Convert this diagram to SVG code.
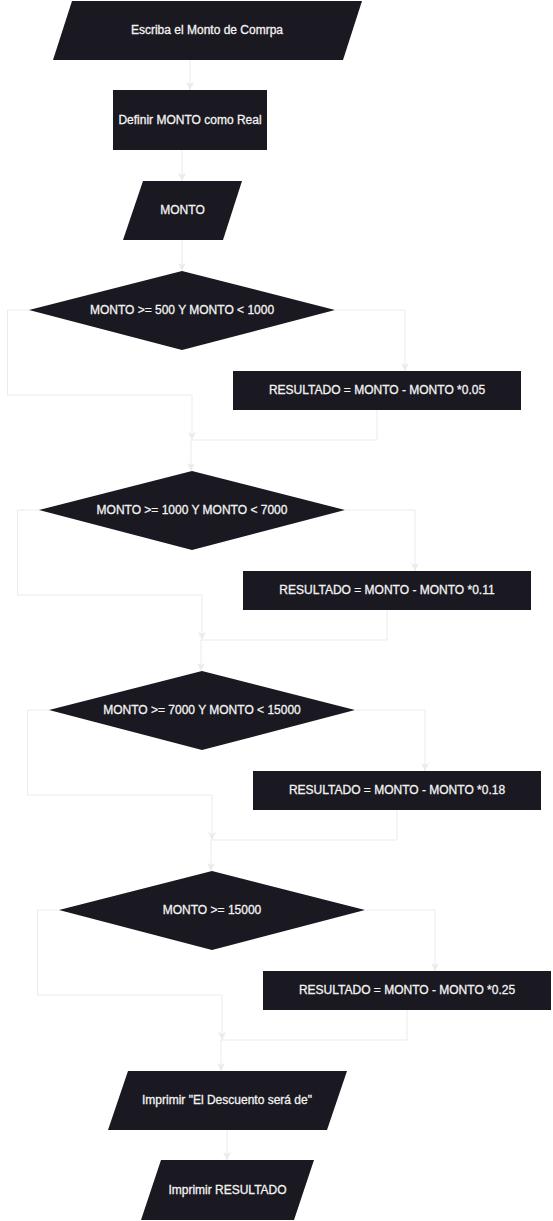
<svg xmlns="http://www.w3.org/2000/svg" width="553" height="1221" viewBox="0 0 553 1221">
<style>
.n{fill:#1a1820;}
.t{font-family:"Liberation Sans",Arial,sans-serif;font-size:12px;fill:#f2f2f2;stroke:#f2f2f2;stroke-width:0.3;text-anchor:middle;}
.c{fill:none;stroke:#ebebeb;stroke-width:1;}
</style>
<defs>
<marker id="ah" markerUnits="userSpaceOnUse" markerWidth="10" markerHeight="10" refX="8" refY="4" orient="auto">
<path d="M0,0 L8,4 L0,8 L2,4 Z" fill="#ebebeb"/>
</marker>
</defs>
<rect width="553" height="1221" fill="#ffffff"/>
<g id="connectors">
<path class="c" d="M190,60 V90" marker-end="url(#ah)"/>
<path class="c" d="M182,150 V181" marker-end="url(#ah)"/>
<path class="c" d="M182,240 V271" marker-end="url(#ah)"/>
<path class="c" d="M335,310 H405 V371" marker-end="url(#ah)"/>
<path class="c" d="M30,310 H7.5 V395 H192 V440" marker-end="url(#ah)"/>
<path class="c" d="M377,410 V440 H191 V471" marker-end="url(#ah)"/>
<path class="c" d="M345,510 H415 V571" marker-end="url(#ah)"/>
<path class="c" d="M40,510 H17.5 V595 H202 V640" marker-end="url(#ah)"/>
<path class="c" d="M387,610 V640 H201 V671" marker-end="url(#ah)"/>
<path class="c" d="M355,710 H425 V771" marker-end="url(#ah)"/>
<path class="c" d="M50,710 H27.5 V795 H212 V840" marker-end="url(#ah)"/>
<path class="c" d="M397,810 V840 H211 V871" marker-end="url(#ah)"/>
<path class="c" d="M365,910 H435 V971" marker-end="url(#ah)"/>
<path class="c" d="M60,910 H37.5 V995 H222 V1040" marker-end="url(#ah)"/>
<path class="c" d="M407,1010 V1040 H221 V1071" marker-end="url(#ah)"/>
<path class="c" d="M227,1130 V1160" marker-end="url(#ah)"/>
</g>
<g id="n1"><polygon class="n" points="72,1 362,1 343,60 53,60"/><text class="t" x="207" y="34">Escriba el Monto de Comrpa</text></g>
<g id="n2"><rect class="n" x="113" y="90" width="154" height="60"/><text class="t" x="190" y="124">Definir MONTO como Real</text></g>
<g id="n3"><polygon class="n" points="143,181 242,181 223,240 123,240"/><text class="t" x="182.5" y="214">MONTO</text></g>
<g id="d1"><polygon class="n" points="182,271 335,310 182,350 29,310"/><text class="t" x="182" y="314">MONTO &gt;= 500 Y MONTO &lt; 1000</text></g>
<g id="r1"><rect class="n" x="233" y="371" width="288" height="39"/><text class="t" x="377" y="394">RESULTADO = MONTO - MONTO *0.05</text></g>
<g id="d2"><polygon class="n" points="192,471 345,510 192,550 39,510"/><text class="t" x="192" y="514">MONTO &gt;= 1000 Y MONTO &lt; 7000</text></g>
<g id="r2"><rect class="n" x="243" y="571" width="288" height="39"/><text class="t" x="387" y="594">RESULTADO = MONTO - MONTO *0.11</text></g>
<g id="d3"><polygon class="n" points="202,671 355,710 202,750 49,710"/><text class="t" x="202" y="714">MONTO &gt;= 7000 Y MONTO &lt; 15000</text></g>
<g id="r3"><rect class="n" x="253" y="771" width="288" height="39"/><text class="t" x="397" y="794">RESULTADO = MONTO - MONTO *0.18</text></g>
<g id="d4"><polygon class="n" points="212,871 365,910 212,950 59,910"/><text class="t" x="212" y="914">MONTO &gt;= 15000</text></g>
<g id="r4"><rect class="n" x="263" y="971" width="288" height="39"/><text class="t" x="407" y="994">RESULTADO = MONTO - MONTO *0.25</text></g>
<g id="n5"><polygon class="n" points="128,1071 347,1071 327,1130 108,1130"/><text class="t" x="227" y="1104">Imprimir "El Descuento será de"</text></g>
<g id="n6"><polygon class="n" points="161,1160 314,1160 294,1220 141,1220"/><text class="t" x="227.5" y="1194">Imprimir RESULTADO</text></g>
</svg>
